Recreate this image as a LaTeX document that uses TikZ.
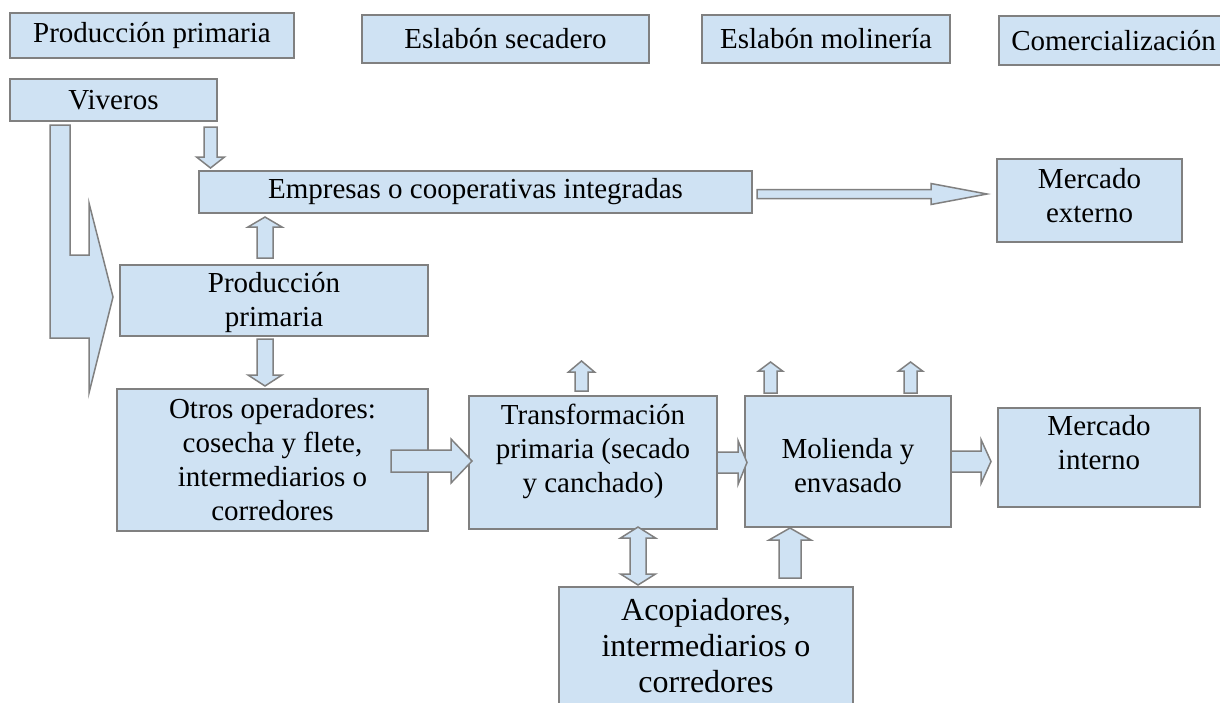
\documentclass[tikz,border=0pt]{standalone}
\usepackage{fontspec}
\setmainfont{Liberation Serif}
\usetikzlibrary{positioning,calc}

\definecolor{boxfill}{RGB}{207,226,243}
\definecolor{boxline}{RGB}{128,128,128}

% fat arrow: from, to, half shaft, half head, head length
\newcommand{\fatarrow}[5]{
  \coordinate (fs) at #1; \coordinate (fe) at #2;
  \coordinate (fh) at ($(fe)!#5pt!(fs)$);
  \draw [fat] ($(fs)!#3pt!90:(fe)$) -- ($(fh)!#3pt!-90:(fs)$) -- ($(fh)!#4pt!-90:(fs)$)
    -- (fe) -- ($(fh)!#4pt!90:(fs)$) -- ($(fh)!#3pt!90:(fs)$) -- ($(fs)!#3pt!-90:(fe)$) -- cycle;
}
\newcommand{\fatboth}[5]{
  \coordinate (fs) at #1; \coordinate (fe) at #2;
  \coordinate (fh) at ($(fs)!#5pt!(fe)$); \coordinate (fk) at ($(fe)!#5pt!(fs)$);
  \draw [fat] (fs) -- ($(fh)!#4pt!90:(fe)$) -- ($(fh)!#3pt!90:(fe)$) -- ($(fk)!#3pt!-90:(fs)$)
    -- ($(fk)!#4pt!-90:(fs)$) -- (fe) -- ($(fk)!#4pt!90:(fs)$) -- ($(fk)!#3pt!90:(fs)$)
    -- ($(fh)!#3pt!-90:(fe)$) -- ($(fh)!#4pt!-90:(fe)$) -- cycle;
}

\begin{document}
\begin{tikzpicture}[x=1pt,y=-1pt,node distance=40pt]

  \tikzstyle{box}=[rectangle,draw=boxline,fill=boxfill,line width=1.5pt,inner sep=0pt,
                   outer sep=0pt,align=center,font=\fontsize{29}{34}\selectfont]
  \tikzstyle{big box}=[box,font=\fontsize{32}{36}\selectfont]
  \tikzstyle{fat}=[draw=boxline,fill=boxfill,line width=1.5pt]

  \useasboundingbox (0,0) rectangle (1220,702);

  % links of the chain
  \node [box,minimum width=284,minimum height=45] (hprod) at (152,35.5) {Producción primaria};
  \node [box,minimum width=287,minimum height=48] (hsec) [right=68pt of hprod,yshift=-3.5pt] {Eslabón secadero};
  \node [box,minimum width=248,minimum height=48] (hmol) [right=53pt of hsec] {Eslabón molinería};
  \node [box,minimum width=229,minimum height=49] (hcom) [right=49pt of hmol,yshift=-1.5pt] {Comercialización};

  \node [box,minimum width=207,minimum height=42] (viv) [below right=21pt and 0pt of hprod.south west] {Viveros};
  \node [box,minimum width=553,minimum height=42] (emp) at (475.5,192) {Empresas o cooperativas integradas};
  \node [box,minimum width=185,minimum height=83] (mext) [right=245pt of emp,yshift=-8.5pt] {Mercado\\externo\\[-24pt]\mbox{}};
  \node [box,minimum width=308,minimum height=71] (prod) at (274,300.5) {\mbox{}\\[-10pt]Producción\\primaria};

  \node [box,minimum width=311,minimum height=142] (otros) at (272.5,460)
        {Otros operadores:\\cosecha y flete,\\intermediarios o\\corredores};
  \node [box,minimum width=248,minimum height=133] (trans) [right=41pt of otros,yshift=-2.5pt]
        {Transformación\\primaria (secado\\y canchado)\\[-6pt]\mbox{}};
  \node [box,minimum width=206,minimum height=131] (mol) [right=28pt of trans,yshift=1pt] {\mbox{}\\[-5pt]Molienda y\\envasado};
  \node [box,minimum width=202,minimum height=99] (mint) [right=47pt of mol,yshift=4pt] {Mercado\\interno\\[-3pt]\mbox{}};
  \node [big box,minimum width=294,minimum height=117] (acop) at (706,645.5)
        {Acopiadores,\\intermediarios o\\corredores};

  % arrows
  \draw [fat] ($(viv.south west)+(40,4)$) -- ++(20,0) -- ++(0,130) -- ++(19,0) -- ++(0,-52)
    -- ($(prod.west)+(-7,-3.5)$) -- ++(-24,96) -- ++(0,-55) -- ++(-39,0) -- cycle;

  \fatarrow{($(viv.south east)+(-6.5,6)$)}{($(viv.south east |- emp.north)+(-6.5,-3)$)}{6.5}{14}{11}
  \fatarrow{($(prod.north)+(-9,-7)$)}{($(prod.north |- emp.south)+(-9,4)$)}{8}{17}{10}
  \fatarrow{($(prod.south)+(-9,3)$)}{($(prod.south |- otros.north)+(-9,-3)$)}{8}{17}{11}
  \fatarrow{($(emp.east)+(5,2)$)}{($(emp.east -| mext.west)+(-10,2)$)}{4.5}{10.5}{56}

  \fatarrow{($(otros.east)+(-37,1)$)}{($(otros.east -| trans.west)+(3,1)$)}{11}{22}{21}
  \fatarrow{(trans.east)}{($(trans.east -| mol.west)+(2,0)$)}{10.5}{22}{9}
  \fatarrow{(mol.east)}{($(mol.east -| mint.west)+(-7,0)$)}{10.5}{22}{10}

  \fatarrow{($(trans.north)+(-11.5,-5)$)}{($(trans.north)+(-11.5,-35)$)}{6.5}{13}{11}
  \fatarrow{($(mol.north west)+(25.5,-3)$)}{($(mol.north west)+(25.5,-34)$)}{6.5}{12}{9}
  \fatarrow{($(mol.north east)+(-40.5,-3)$)}{($(mol.north east)+(-40.5,-34)$)}{6.5}{12}{9}

  \fatboth{($(trans.south)+(45,-2)$)}{($(trans.south |- acop.north)+(45,-2)$)}{8}{17.5}{11}
  \fatarrow{($(mol.south |- acop.north)+(-58,-9)$)}{($(mol.south)+(-58,1)$)}{11}{21}{12}
\end{tikzpicture}
\end{document}
